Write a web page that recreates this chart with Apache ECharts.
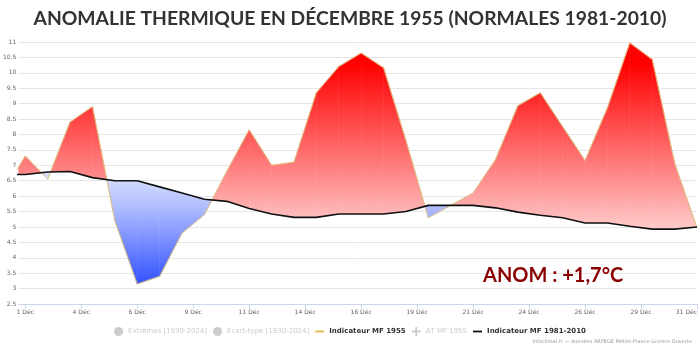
<!DOCTYPE html>
<html>
<head>
<meta charset="utf-8">
<script src="https://cdn.jsdelivr.net/npm/echarts@6/dist/echarts.min.js"></script>
<style>html,body{margin:0;padding:0;background:#fff}#chart{width:700px;height:350px}</style>
</head>
<body>
<div id="chart"></div>
<script>
// Day offsets from 1 December (−1 = 30 November)
const dayOffsets = [-1, 0, 1, 2, 3, 4, 5, 6, 7, 8, 9, 10, 11, 12, 13, 14, 15, 16, 17, 18, 19, 20, 21, 22, 23, 24, 25, 26, 27, 28, 29, 30];
// Indicateur MF 1955 (°C)
const mf1955 = [6.1, 7.3, 6.55, 8.4, 8.9, 5.2, 3.15, 3.4, 4.8, 5.4, 6.8, 8.15, 7.0, 7.1, 9.35, 10.2, 10.64, 10.16, 7.8, 5.3, 5.7, 6.1, 7.18, 8.93, 9.35, 8.25, 7.15, 8.86, 10.97, 10.43, 7.07, 4.97];
// Indicateur MF 1981-2010 (°C)
const mf8110 = [6.7, 6.7, 6.78, 6.8, 6.6, 6.5, 6.5, 6.3, 6.1, 5.9, 5.83, 5.6, 5.42, 5.31, 5.31, 5.42, 5.42, 5.42, 5.5, 5.7, 5.7, 5.7, 5.62, 5.48, 5.38, 5.3, 5.13, 5.13, 5.02, 4.93, 4.93, 5.0];
// X tick labels
const xTickLabels = ['1 Déc', '4 Déc', '6 Déc', '9 Déc', '11 Déc', '14 Déc', '16 Déc', '19 Déc', '21 Déc', '24 Déc', '26 Déc', '29 Déc', '31 Déc'];
const xTickStep = 2.5;
const legendNames = ['Extrêmes [1930-2024]', 'Écart-type [1930-2024]', 'Indicateur MF 1955', '∆T MF 1955', 'Indicateur MF 1981-2010'];
const titleText = 'ANOMALIE THERMIQUE EN DÉCEMBRE 1955 (NORMALES 1981-2010)';
const anomText = 'ANOM : +1,7°C';
const creditText = 'infoclimat.fr — données ARPEGE Météo-France Licence Ouverte';

const tickValues = xTickLabels.map((_, i) => i * xTickStep);
const segments = mf1955.slice(0, -1).map((v, i) => [dayOffsets[i], v, mf8110[i], dayOffsets[i + 1], mf1955[i + 1], mf8110[i + 1]]);

const chart = echarts.init(document.getElementById('chart'), null, {renderer: 'canvas'});

function renderBand(params, api) {
  const x0 = api.value(0), r0 = api.value(1), b0 = api.value(2);
  const x1 = api.value(3), r1 = api.value(4), b1 = api.value(5);
  const R0 = api.coord([x0, r0]), R1 = api.coord([x1, r1]);
  const B0 = api.coord([x0, b0]), B1 = api.coord([x1, b1]);
  const redTop = api.coord([0, 10.3])[1], redBot = api.coord([0, 5.0])[1];
  const bluTop = api.coord([0, 6.6])[1], bluBot = api.coord([0, 3.1])[1];
  const redFill = new echarts.graphic.LinearGradient(0, redTop, 0, redBot, [
    {offset: 0, color: '#ff0000'}, {offset: 1, color: '#ffc8c8'}], true);
  const bluFill = new echarts.graphic.LinearGradient(0, bluTop, 0, bluBot, [
    {offset: 0, color: '#d4dcff'}, {offset: 0.25, color: '#b4c0ff'}, {offset: 1, color: '#3050ff'}], true);
  const poly = (pts, pos) => ({
    type: 'polygon', shape: {points: pts},
    style: {fill: pos ? redFill : bluFill, stroke: pos ? redFill : bluFill, lineWidth: 0.6}
  });
  const d0 = r0 - b0, d1 = r1 - b1;
  const children = [];
  if ((d0 >= 0 && d1 >= 0) || (d0 <= 0 && d1 <= 0)) {
    children.push(poly([R0, R1, B1, B0], (d0 + d1) >= 0));
  } else {
    const t = d0 / (d0 - d1);
    const C = [B0[0] + t * (B1[0] - B0[0]), B0[1] + t * (B1[1] - B0[1])];
    children.push(poly([R0, C, B0], d0 > 0));
    children.push(poly([C, R1, B1], d1 > 0));
  }
  const cs = params.coordSys;
  return {type: 'group', children,
    clipPath: {type: 'rect', shape: {x: cs.x, y: cs.y, width: cs.width, height: cs.height}}};
}

const option = {
  animation: false,
  backgroundColor: '#ffffff',
  title: {
    text: titleText, left: 'center', top: 4,
    textStyle: {fontFamily: 'Lato', fontWeight: 'bold', fontSize: 19.3, color: '#333333'}
  },
  legend: {
    top: 322, left: 'center', itemWidth: 9, itemHeight: 9, itemGap: 6,
    inactiveColor: '#cccccc', symbolKeepAspect: true,
    textStyle: {fontFamily: 'DejaVu Sans', fontSize: 7, fontWeight: 'bold', color: '#333333'},
    data: [
      {name: legendNames[0], icon: 'circle', textStyle: {fontWeight: 'normal'}},
      {name: legendNames[1], icon: 'circle', textStyle: {fontWeight: 'normal'}},
      {name: legendNames[2], icon: 'path://M0,0H10V2H0Z'},
      {name: legendNames[3], icon: 'path://M2,0H3V2H5V3H3V5H2V3H0V2H2Z', textStyle: {fontWeight: 'normal'}},
      {name: legendNames[4], icon: 'path://M0,0H10V2H0Z'}
    ],
    selected: {[legendNames[0]]: false, [legendNames[1]]: false, [legendNames[3]]: false}
  },
  grid: {left: 17, right: 1, top: 42, bottom: 46, containLabel: false},
  xAxis: {
    type: 'value', min: -0.31, max: 30,
    axisLine: {show: true, lineStyle: {color: '#ccd6eb', width: 1}},
    axisTick: {show: true, length: 5, lineStyle: {color: '#ccd6eb'}, customValues: tickValues},
    axisLabel: {
      customValues: tickValues, margin: 5, color: '#666666', fontFamily: 'DejaVu Sans', fontSize: 6,
      formatter: v => xTickLabels[Math.round(v / xTickStep)], alignMaxLabel: 'right'
    },
    splitLine: {show: false}
  },
  yAxis: {
    type: 'value', min: 2.5, max: 11, interval: 0.5,
    axisLine: {show: false}, axisTick: {show: false},
    axisLabel: {margin: 2, color: '#666666', fontFamily: 'DejaVu Sans', fontSize: 6},
    splitLine: {lineStyle: {color: '#e6e6e6', width: 1}}
  },
  graphic: [
    {type: 'text', left: 483, top: 266, z: 100,
      style: {text: anomText, fontFamily: 'Lato', fontWeight: 'bold', fontSize: 20, fill: '#8b0000'}},
    {type: 'text', right: 8, top: 339, z: 100,
      style: {text: creditText, fontFamily: 'DejaVu Sans', fontSize: 5, fill: '#999999'}}
  ],
  series: [
    {name: 'fill', type: 'custom', renderItem: renderBand, data: segments,
      encode: {x: 0, y: 1}, z: 1, silent: true},
    {name: legendNames[0], type: 'line', data: [], color: '#cccccc'},
    {name: legendNames[1], type: 'line', data: [], color: '#cccccc'},
    {name: legendNames[2], type: 'line', data: dayOffsets.map((d, i) => [d, mf1955[i]]),
      symbol: 'none', color: '#e8b64e', lineStyle: {color: '#dcc07c', width: 1}, z: 3},
    {name: legendNames[3], type: 'line', data: [], color: '#cccccc'},
    {name: legendNames[4], type: 'line', data: dayOffsets.map((d, i) => [d, mf8110[i]]),
      symbol: 'none', color: '#111111', lineStyle: {color: '#111111', width: 1.6}, z: 4}
  ]
};
chart.setOption(option);
</script>
</body>
</html>
